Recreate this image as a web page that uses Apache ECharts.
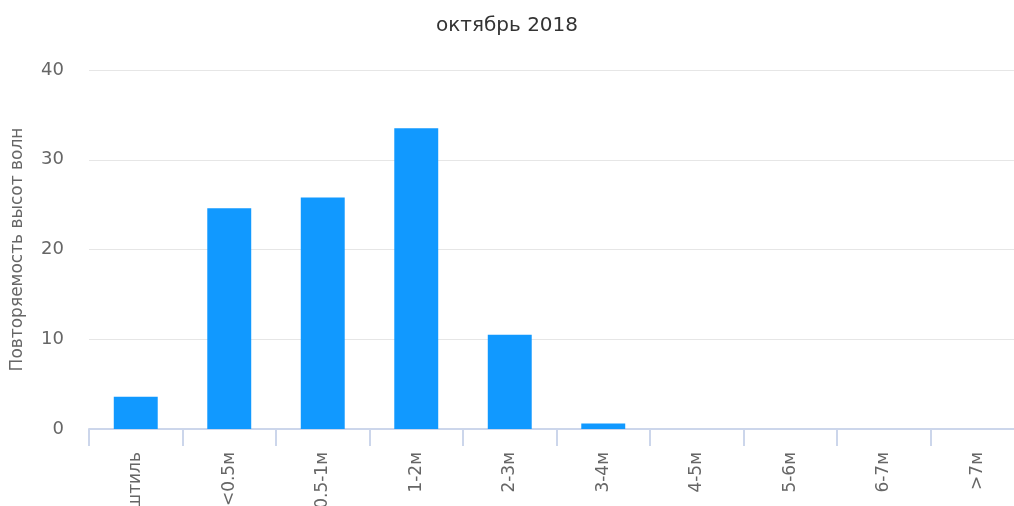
<!DOCTYPE html>
<html>
<head>
<meta charset="utf-8">
<script src="https://cdn.jsdelivr.net/npm/echarts@6/dist/echarts.min.js"></script>
<style>
  html, body { margin: 0; padding: 0; background: #fff; }
  #chart { width: 1014px; height: 506px; }
</style>
</head>
<body>
<div id="chart"></div>
<script>
// данные графика
const categories = ['штиль', '<0.5м', '0.5-1м', '1-2м', '2-3м', '3-4м', '4-5м', '5-6м', '6-7м', '>7м'];
const values = [3.6, 24.6, 25.8, 33.5, 10.5, 0.6, 0, 0, 0, 0];
const yTicks = [0, 10, 20, 30, 40];
const chartTitle = 'октябрь 2018';
const yName = 'Повторяемость высот волн';

const font = 'DejaVu Sans, Verdana, sans-serif';
const chart = echarts.init(document.getElementById('chart'));
chart.setOption({
    animation: false,
    title: {
        text: chartTitle,
        left: 'center',
        top: 11,
        textStyle: { fontFamily: font, fontSize: 20, fontWeight: 'normal', color: '#333' }
    },
    grid: { left: 89, width: 935, top: 70, bottom: 77, outerBoundsMode: 'none', containLabel: false },
    xAxis: {
        type: 'category',
        data: categories,
        axisLine: { lineStyle: { color: '#ccd6eb', width: 2 } },
        axisTick: { show: true, length: 17, lineStyle: { color: '#ccd6eb', width: 2 } },
        axisLabel: { rotate: 90, margin: 23, fontFamily: font, fontSize: 17, color: '#666', interval: 0 },
        splitLine: { show: false }
    },
    yAxis: {
        type: 'value',
        min: yTicks[0],
        max: yTicks[yTicks.length - 1],
        interval: 10,
        name: yName,
        nameLocation: 'middle',
        nameGap: 63,
        nameTextStyle: { fontFamily: font, fontSize: 17, color: '#666' },
        axisLine: { show: false },
        axisTick: { show: false },
        axisLabel: { margin: 25, fontFamily: font, fontSize: 18, color: '#666' },
        splitLine: { lineStyle: { color: '#e6e6e6' } }
    },
    series: [{
        type: 'bar',
        data: values,
        barWidth: '47%',
        itemStyle: { color: '#1199ff' }
    }]
});
</script>
</body>
</html>
